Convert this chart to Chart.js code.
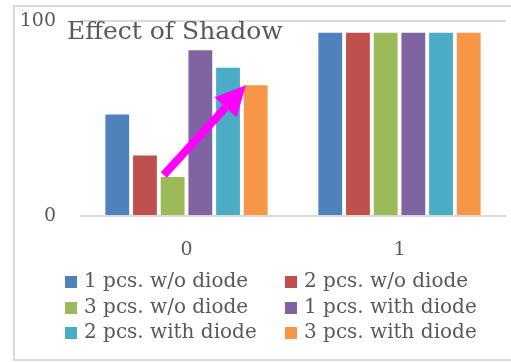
<!DOCTYPE html>
<html lang="en">
<head>
    <meta charset="UTF-8">
    <title>Effect of Shadow</title>
    <script src="https://cdn.jsdelivr.net/npm/chart.js"></script>
    <style>
        body { margin: 0; background: #fff; overflow: hidden; }
        .chart-container { position: relative; width: 511px; height: 362px; }
    </style>
</head>
<body>
    <div class="chart-container">
        <canvas id="myChart"></canvas>
    </div>

    <script>
        const categories = ['0', '1'];
        const seriesLabels = [
            '1 pcs. w/o diode', '2 pcs. w/o diode', '3 pcs. w/o diode',
            '1 pcs. with diode', '2 pcs. with diode', '3 pcs. with diode'
        ];
        const onePcsNoDiode = [52, 94];
        const twoPcsNoDiode = [31, 94];
        const threePcsNoDiode = [20, 94];
        const onePcsDiode = [85, 94];
        const twoPcsDiode = [76, 94];
        const threePcsDiode = [67, 94];
        const yTicks = [0, 100];

        const colors = ['#4F81BD', '#C0504D', '#9BBB59', '#8064A2', '#4BACC6', '#F79646'];
        const textColor = '#595959';
        const serif = '"DejaVu Serif", serif';

        const seriesValues = [onePcsNoDiode, twoPcsNoDiode, threePcsNoDiode, onePcsDiode, twoPcsDiode, threePcsDiode];

        // outer frame + title inside the plot
        const framePlugin = {
            id: 'frame',
            beforeDraw(chart) {
                const c = chart.ctx;
                c.save();
                c.strokeStyle = '#d9d9d9';
                c.lineWidth = 2;
                c.beginPath();
                c.moveTo(600, 6);
                c.lineTo(14, 6);
                c.lineTo(14, 360);
                c.lineTo(600, 360);
                c.stroke();
                c.restore();
            },
            afterDraw(chart) {
                const c = chart.ctx;
                c.save();
                c.fillStyle = textColor;
                c.font = '25px ' + serif;
                c.textBaseline = 'middle';
                c.fillText('Effect of Shadow', 67, 32);
                c.restore();
            }
        };

        // two-column legend under the axis
        const legendPlugin = {
            id: 'gridLegend',
            afterDraw(chart) {
                const c = chart.ctx;
                const cols = [65, 285];
                const rows = [282, 308, 333];
                c.save();
                c.font = '20px ' + serif;
                c.textBaseline = 'middle';
                chart.data.datasets.forEach((ds, i) => {
                    const x = cols[i % 2];
                    const y = rows[Math.floor(i / 2)];
                    c.fillStyle = ds.backgroundColor;
                    c.fillRect(x, y - 6, 12, 12);
                    c.fillStyle = textColor;
                    c.fillText(ds.label, x + 19, y);
                });
                c.restore();
            }
        };

        // magenta arrow from the 3 pcs. bar up to the 3 pcs. with diode bar
        const arrowPlugin = {
            id: 'arrow',
            afterDatasetsDraw(chart) {
                const from = chart.getDatasetMeta(2).data[0];
                const to = chart.getDatasetMeta(5).data[0];
                const x1 = from.x - from.width / 2 + 3, y1 = from.y - 2;
                const x2 = to.x - to.width / 2 + 2, y2 = to.y;
                const ang = Math.atan2(y2 - y1, x2 - x1);
                const headLen = 30, headW = 15;
                const bx = x2 - headLen * Math.cos(ang), by = y2 - headLen * Math.sin(ang);
                const c = chart.ctx;
                c.save();
                c.strokeStyle = '#FF00FF';
                c.fillStyle = '#FF00FF';
                c.lineWidth = 8;
                c.beginPath();
                c.moveTo(x1, y1);
                c.lineTo(bx, by);
                c.stroke();
                c.beginPath();
                c.moveTo(x2, y2);
                c.lineTo(bx + headW * Math.sin(ang), by - headW * Math.cos(ang));
                c.lineTo(bx - headW * Math.sin(ang), by + headW * Math.cos(ang));
                c.closePath();
                c.fill();
                c.restore();
            }
        };

        const ctx = document.getElementById('myChart').getContext('2d');
        const myChart = new Chart(ctx, {
            type: 'bar',
            data: {
                labels: categories,
                datasets: seriesLabels.map((label, i) => ({
                    label: label,
                    data: seriesValues[i],
                    backgroundColor: colors[i],
                    borderWidth: 0,
                    categoryPercentage: 0.78,
                    barPercentage: 0.86
                }))
            },
            options: {
                responsive: true,
                maintainAspectRatio: false,
                animation: false,
                layout: { padding: { left: 0, right: 5, top: 21, bottom: 0 } },
                plugins: {
                    legend: { display: false },
                    tooltip: { enabled: false }
                },
                scales: {
                    x: {
                        grid: { display: false },
                        border: { display: false },
                        ticks: { color: textColor, font: { family: serif, size: 19 }, padding: 15 },
                        afterFit(scale) { scale.height = 146; }
                    },
                    y: {
                        min: 0,
                        max: 100,
                        afterBuildTicks(scale) { scale.ticks = yTicks.map(v => ({ value: v })); },
                        grid: { color: '#d9d9d9', lineWidth: 2, drawTicks: false },
                        border: { display: false },
                        ticks: { color: textColor, font: { family: serif, size: 19 }, padding: 24 },
                        afterFit(scale) {
                            scale.width = 80;
                            // tick padding would otherwise push the plot top down
                            scale.paddingTop = 0;
                            scale.paddingBottom = 0;
                        }
                    }
                }
            },
            plugins: [framePlugin, legendPlugin, arrowPlugin]
        });
    </script>
</body>
</html>
